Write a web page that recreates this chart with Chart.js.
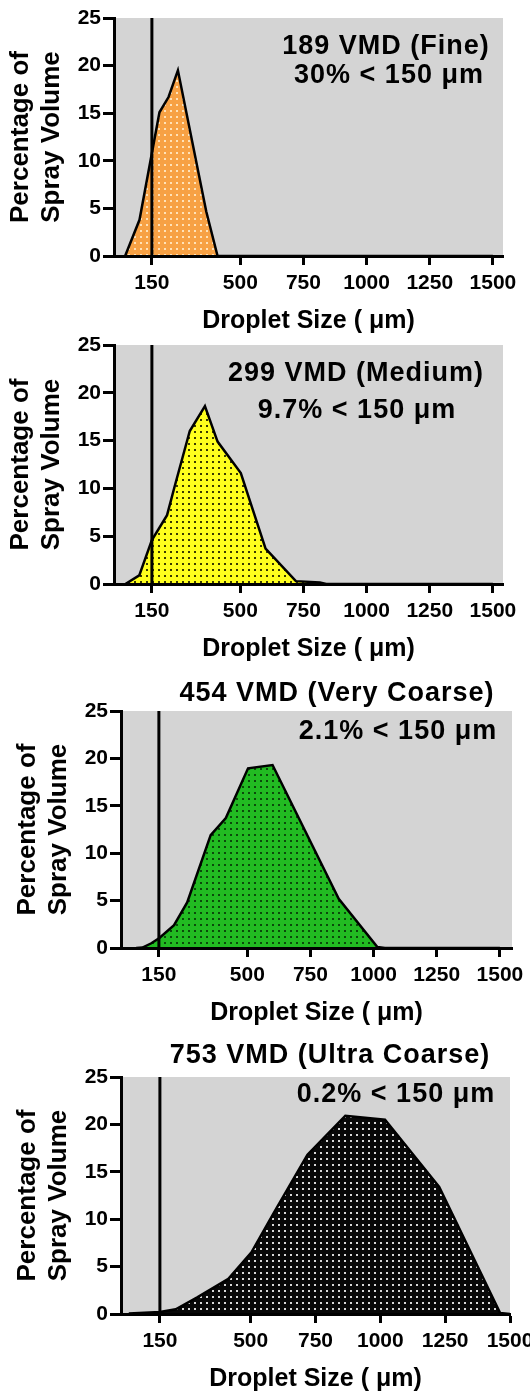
<!DOCTYPE html>
<html>
<head>
<meta charset="utf-8">
<script src="https://cdn.jsdelivr.net/npm/chart.js@4.4.0/dist/chart.umd.min.js"></script>
<style>
  html, body { margin: 0; padding: 0; background: #fff; overflow: hidden; }
  body { position: relative; width: 530px; height: 1391px; }
  canvas { position: absolute; left: 0; }
</style>
</head>
<body>
<canvas id="fineChart" width="530" height="336" style="top:0px"></canvas>
<canvas id="mediumChart" width="530" height="337" style="top:327px"></canvas>
<canvas id="veryCoarseChart" width="530" height="358" style="top:670px"></canvas>
<canvas id="ultraCoarseChart" width="560" height="364" style="top:1030px"></canvas>
<script>
// x = droplet size (µm), y = percentage of spray volume
const xTicks = [150, 500, 750, 1000, 1250, 1500];
const yTicks = [0, 5, 10, 15, 20, 25];
const cutoff = 150;

// 189 VMD (Fine)
const fineX = [44, 101, 180, 216, 253, 365, 410, 1500];
const fineY = [0, 3.8, 15.1, 16.7, 19.5, 4.7, 0, 0];

// 299 VMD (Medium)
const mediumX = [45, 100, 150, 210, 240, 300, 360, 410, 502, 600, 720, 815, 840, 1500];
const mediumY = [0, 0.9, 4.6, 7.2, 10.2, 16.0, 18.6, 14.9, 11.6, 3.7, 0.3, 0.15, 0, 0];

// 454 VMD (Very Coarse)
const veryCoarseX = [60, 85, 120, 152, 210, 262, 355, 415, 503, 600, 862, 1015, 1045, 1500];
const veryCoarseY = [0, 0.05, 0.5, 1.05, 2.4, 4.8, 11.9, 13.7, 18.95, 19.3, 5.2, 0.1, 0, 0];

// 753 VMD (Ultra Coarse)
const ultraCoarseX = [30, 150, 211, 294, 414, 503, 592, 719, 865, 1018, 1227, 1462, 1500];
const ultraCoarseY = [0.05, 0.2, 0.5, 1.75, 3.7, 6.5, 10.8, 16.8, 20.9, 20.5, 13.4, 0.1, 0];

const FONT = "'Liberation Sans', Arial, Helvetica, sans-serif";

// 点々模様の塗り
function dotPattern(bg, dot) {
  const c = document.createElement("canvas");
  c.width = 6;
  c.height = 6;
  const g = c.getContext("2d");
  g.fillStyle = bg;
  g.fillRect(0, 0, 6, 6);
  g.fillStyle = dot;
  g.fillRect(2, 2, 2, 2);
  return g.createPattern(c, "repeat");
}

// グレーのプロット背景
const plotBg = {
  id: "plotBg",
  beforeDraw(chart, args, opts) {
    const { ctx, chartArea: a } = chart;
    ctx.save();
    ctx.fillStyle = opts.color;
    ctx.fillRect(a.left, a.top, a.right - a.left, a.bottom - a.top);
    ctx.restore();
  },
};

// 注記テキスト
const notes = {
  id: "notes",
  afterDraw(chart, args, opts) {
    const ctx = chart.ctx;
    ctx.save();
    ctx.font = "bold 27px " + FONT;
    ctx.fillStyle = "#000";
    ctx.textAlign = "center";
    ctx.textBaseline = "middle";
    if ("letterSpacing" in ctx) ctx.letterSpacing = "1px";
    (opts.lines || []).forEach(l => ctx.fillText(l.text, l.x, l.y));
    ctx.restore();
  },
};

function drawPanel(id, p) {
  const tickFont = { family: FONT, size: 21, weight: "bold" };
  new Chart(document.getElementById(id), {
    type: "scatter",
    data: {
      datasets: [
        {
          data: [{ x: cutoff, y: yTicks[0] }, { x: cutoff, y: yTicks[yTicks.length - 1] }],
          showLine: true,
          borderColor: "#000",
          borderWidth: 3,
          pointRadius: 0,
          fill: false,
          order: 1,
        },
        {
          data: p.xs.map((x, i) => ({ x: x, y: p.ys[i] })),
          showLine: true,
          borderColor: "#000",
          borderWidth: 2.5,
          backgroundColor: dotPattern(p.fill, p.dot),
          fill: "origin",
          pointRadius: 0,
          tension: 0,
          order: 2,
        },
      ],
    },
    options: {
      responsive: false,
      animation: false,
      devicePixelRatio: 1,
      layout: { padding: { top: p.padTop, right: p.padRight, bottom: 0, left: 0 } },
      plugins: {
        legend: { display: false },
        tooltip: { enabled: false },
        plotBg: { color: "#D4D4D4" },
        notes: { lines: p.notes },
      },
      scales: {
        x: {
          type: "linear",
          min: 0,
          max: p.xMax,
          afterBuildTicks: s => { s.ticks = xTicks.map(v => ({ value: v })); },
          afterFit: s => { s.height = 80; },
          grid: { display: true, drawOnChartArea: false, drawTicks: true, tickLength: 9, tickWidth: 3, tickColor: "#000" },
          border: { display: true, color: "#000", width: 3, z: 1 },
          ticks: { color: "#000", font: tickFont, padding: 6, maxRotation: 0, autoSkip: false, callback: v => String(v) },
          title: {
            display: true,
            text: "Droplet Size ( μm)",
            color: "#000",
            font: { family: FONT, size: 25, weight: "bold", lineHeight: 1.2 },
            padding: { top: 0, bottom: 0 },
          },
        },
        y: {
          type: "linear",
          min: yTicks[0],
          max: yTicks[yTicks.length - 1],
          afterBuildTicks: s => { s.ticks = yTicks.map(v => ({ value: v })); },
          afterFit: s => { s.width = p.yWidth; },
          grid: { display: true, drawOnChartArea: false, drawTicks: true, tickLength: 11, tickWidth: 3, tickColor: "#000" },
          border: { display: true, color: "#000", width: 3, z: 1 },
          ticks: { color: "#000", font: tickFont, padding: 2, callback: v => String(v) },
          title: {
            display: true,
            text: ["Percentage of", "Spray Volume"],
            color: "#000",
            font: { family: FONT, size: 26, weight: "bold", lineHeight: 1.2 },
            padding: { top: p.yTitlePad, bottom: 0 },
          },
        },
      },
    },
    plugins: [plotBg, notes],
  });
}

drawPanel("fineChart", {
  xs: fineX, ys: fineY, fill: "#F7A144", dot: "#FFE2B8",
  xMax: 1540, padTop: 18, padRight: 27, yWidth: 114, yTitlePad: 5,
  notes: [
    { text: "189 VMD (Fine)", x: 386, y: 47 },
    { text: "30% < 150 μm", x: 389, y: 76 },
  ],
});

drawPanel("mediumChart", {
  xs: mediumX, ys: mediumY, fill: "#FFFF1E", dot: "#3A3A00",
  xMax: 1540, padTop: 18, padRight: 27, yWidth: 114, yTitlePad: 5,
  notes: [
    { text: "299 VMD (Medium)", x: 356, y: 47 },
    { text: "9.7% < 150 μm", x: 357, y: 84 },
  ],
});

drawPanel("veryCoarseChart", {
  xs: veryCoarseX, ys: veryCoarseY, fill: "#22BB22", dot: "#0B4A0B",
  xMax: 1548, padTop: 41, padRight: 18, yWidth: 121, yTitlePad: 12,
  notes: [
    { text: "454 VMD (Very Coarse)", x: 337, y: 24 },
    { text: "2.1% < 150 μm", x: 398, y: 62 },
  ],
});

drawPanel("ultraCoarseChart", {
  xs: ultraCoarseX, ys: ultraCoarseY, fill: "#080808", dot: "#D8D8D8",
  xMax: 1500, padTop: 47, padRight: 50, yWidth: 121, yTitlePad: 12,
  notes: [
    { text: "753 VMD (Ultra Coarse)", x: 330, y: 26 },
    { text: "0.2% < 150 μm", x: 396, y: 65 },
  ],
});
</script>
</body>
</html>
